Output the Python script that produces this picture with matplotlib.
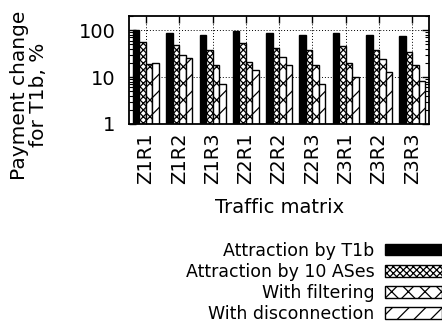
import numpy as np
import matplotlib
matplotlib.use('Agg')
import matplotlib.pyplot as plt

# traffic matrices (x axis)
matrices = ['Z1R1', 'Z1R2', 'Z1R3', 'Z2R1', 'Z2R2', 'Z2R3', 'Z3R1', 'Z3R2', 'Z3R3']

# payment change for T1b, %
t1b = [103, 89, 78, 95, 85, 78, 86, 78, 74]
ases10 = [56, 49, 38, 54, 42, 37, 46, 37, 34]
filtering = [19, 29, 18, 21, 27, 18, 20, 24, 18]
disconnection = [20, 26, 7.1, 14, 18, 7.1, 10, 13, 8.2]

labels = ['Attraction by T1b', 'Attraction by 10 ASes', 'With filtering', 'With disconnection']
hatches = ['', 'xxxxx', 'xx', '//']
colors = ['black', 'white', 'white', 'white']

plt.rcParams['font.family'] = 'DejaVu Sans'
plt.rcParams['hatch.linewidth'] = 0.9

fig = plt.figure(figsize=(4.42, 3.28), dpi=100)
ax = fig.add_axes([0.2925, 0.622, 0.678, 0.329])

x = np.arange(1, len(matrices) + 1)
w = 0.195
series = [t1b, ases10, filtering, disconnection]
for i, vals in enumerate(series):
    ax.bar(x + (i - 1.5) * w, vals, width=w, color=colors[i], edgecolor='black',
           hatch=hatches[i], linewidth=1.0, label=labels[i], zorder=2)

ax.set_yscale('log')
ax.set_ylim(1, 200)
ax.set_xlim(0.5, 9.5)
ax.set_yticks([1, 10, 100])
ax.set_yticklabels(['1', '10', '100'])
ax.set_xticks(x)
ax.set_xticklabels(matrices, rotation=90, va='top', ha='center')
ax.tick_params(axis='both', which='major', direction='in', length=5, width=1,
               top=True, right=True, labelsize=14)
ax.tick_params(axis='y', which='major', pad=10)
ax.tick_params(axis='x', which='major', pad=6)
ax.tick_params(axis='y', which='minor', direction='in', length=3, width=0.8, right=True)
ax.yaxis.set_minor_formatter(matplotlib.ticker.NullFormatter())
ax.grid(True, which='major', linestyle=(0, (1, 2)), color='black', linewidth=0.7, zorder=0)
ax.set_axisbelow(True)
for s in ax.spines.values():
    s.set_linewidth(1.3)

ax.set_xlabel('Traffic matrix', fontsize=14, labelpad=10)
fig.text(0.066, 0.71, 'Payment change\nfor T1b, %', rotation=90, ha='center', va='center',
         fontsize=14.5, multialignment='center', linespacing=1.0)

fig.legend(loc='upper right', bbox_to_anchor=(1.0, 0.263), frameon=False, fontsize=12.5,
           markerfirst=False, handlelength=3.3, handleheight=0.65, handletextpad=0.6,
           labelspacing=0.18, borderpad=0, borderaxespad=0)

fig.savefig('out.png', dpi=100)
